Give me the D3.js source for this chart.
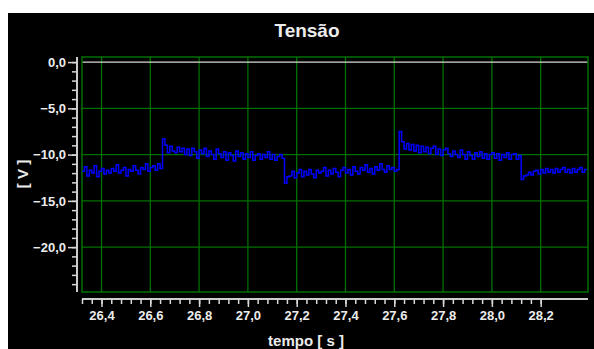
<!DOCTYPE html>
<html>
<head>
<meta charset="utf-8">
<script src="https://cdn.jsdelivr.net/npm/d3@7"></script>
<style>
html, body { margin: 0; padding: 0; background: #fff; }
svg { display: block; }
text { font-family: Arial, "Liberation Sans", sans-serif; }
</style>
</head>
<body>
<svg id="chart" width="594" height="349"></svg>
<script>
var svg = d3.select('#chart')

// sampled signal: first sample time and sample period, in seconds
var sampleStart = 26.32
var sampleStep = 0.01

// tensao [V]
var voltage = [
	// low level
	-11.8, -11.3, -12.3, -11.7, -12.0, -11.2, -12.4, -11.8, -11.5, -12.1,
	-11.7, -12.0, -11.5, -11.8, -11.1, -12.0, -11.7, -11.4, -12.3, -11.6,
	-11.8, -11.2, -11.7, -12.1, -11.4, -11.6, -11.0, -11.8, -11.4, -11.2,
	-11.7, -11.0, -11.5,
	// high level
	-8.3, -9.0, -9.8, -9.1, -9.6, -9.8, -9.2, -9.7, -9.3, -10.0,
	-9.4, -10.1, -9.3, -9.7, -10.4, -9.5, -9.9, -9.3, -10.2, -9.6,
	-10.0, -10.5, -9.4, -9.9, -10.3, -9.7, -10.6, -9.8, -10.1, -10.7,
	-9.6, -10.2, -9.8, -10.5, -9.9, -10.3, -9.7, -10.6, -10.1, -9.9,
	-10.5, -10.0, -10.3, -9.7, -10.5, -10.0, -10.6, -10.2, -10.0, -10.4,
	// low level
	-13.1, -12.4, -12.3, -11.8, -12.5, -12.0, -11.6, -12.4, -11.8, -12.2,
	-11.6, -12.1, -12.5, -11.7, -12.0, -11.8, -11.4, -12.3, -11.7, -12.1,
	-11.5, -11.9, -12.4, -11.7, -11.4, -12.0, -11.6, -12.2, -11.3, -11.8,
	-12.1, -11.4, -11.7, -11.1, -11.9, -11.5, -12.1, -11.3, -11.7, -11.0,
	-11.6, -11.9, -11.2, -11.6, -11.4, -11.8, -11.6,
	// high level
	-7.5, -8.6, -9.4, -8.8, -9.5, -8.9, -9.6, -9.0, -9.8, -9.1,
	-9.7, -9.2, -9.9, -9.3, -9.1, -10.0, -9.4, -10.1, -9.5, -9.3,
	-9.9, -10.2, -9.6, -10.0, -10.3, -9.5, -10.0, -10.5, -9.7, -10.1,
	-10.5, -9.8, -10.2, -9.7, -10.4, -9.9, -10.5, -10.0, -9.8, -10.4,
	-9.9, -10.6, -10.0, -10.3, -9.8, -10.5, -10.0, -9.9, -10.5, -10.1,
	// low level
	-12.7, -12.3, -12.2, -11.9, -12.2, -11.8, -11.7, -12.1, -11.6, -12.0,
	-11.5, -11.9, -11.6, -12.0, -11.5, -11.9, -11.6, -11.4, -11.9, -11.6,
	-12.0, -11.5, -11.9, -11.6, -11.4, -11.9, -11.6, -11.6
]

var xTicks = [26.4, 26.6, 26.8, 27.0, 27.2, 27.4, 27.6, 27.8, 28.0, 28.2]
var yTicks = [0, -5, -10, -15, -20]

var xDomain = [26.32, 28.394]
var yDomain = [-24.85, 0.55]

var plot = {left: 82, right: 588, top: 57, bottom: 292}
var gridColor = '#007000'
var axisColor = '#d8d8d8'
var textColor = '#ececec'

var comma = d3.formatLocale({decimal: ',', thousands: '.', grouping: [3], currency: ['', '']}).format('.1f')

var x = d3.scaleLinear().domain(xDomain).range([plot.left, plot.right])
var y = d3.scaleLinear().domain(yDomain).range([plot.bottom, plot.top])

//Black panel
svg.append('rect')
	.attr('x', 8).attr('y', 13)
	.attr('width', 594 - 8).attr('height', 349 - 13)
	.attr('fill', '#000')

//Grid
svg.append('g').selectAll('line')
	.data(xTicks)
	.enter().append('line')
	.attr('x1', function(d) { return x(d) }).attr('x2', function(d) { return x(d) })
	.attr('y1', plot.top).attr('y2', plot.bottom)
	.attr('stroke', gridColor).attr('stroke-width', 1.3)

svg.append('g').selectAll('line')
	.data(yTicks.filter(function(d) { return d != 0 }))
	.enter().append('line')
	.attr('x1', plot.left).attr('x2', plot.right)
	.attr('y1', function(d) { return y(d) }).attr('y2', function(d) { return y(d) })
	.attr('stroke', gridColor).attr('stroke-width', 1.3)

//Zero line
svg.append('line')
	.attr('x1', plot.left).attr('x2', plot.right)
	.attr('y1', y(0)).attr('y2', y(0))
	.attr('stroke', axisColor).attr('stroke-width', 1.3)

//Frame
svg.append('rect')
	.attr('x', plot.left).attr('y', plot.top)
	.attr('width', plot.right - plot.left).attr('height', plot.bottom - plot.top)
	.attr('fill', 'none').attr('stroke', gridColor).attr('stroke-width', 1.5)

//Signal
var line = d3.line()
	.x(function(d, i) { return x(sampleStart + i * sampleStep) })
	.y(function(d) { return y(d) })
	.curve(d3.curveStepAfter)

svg.append('path')
	.datum(voltage)
	.attr('d', line)
	.attr('fill', 'none')
	.attr('stroke', '#0000ff')
	.attr('stroke-width', 1.5)

//X axis
var xMinor = d3.range(0, 48).map(function(i) { return +(26.32 + i * 0.04).toFixed(2) })

var xAxisG = svg.append('g').attr('transform', 'translate(0,299)')
xAxisG.call(d3.axisBottom(x).tickValues(xMinor).tickSize(5).tickFormat('').tickSizeOuter(0))
xAxisG.append('g').call(d3.axisBottom(x).tickValues(xTicks).tickSize(8).tickFormat(comma).tickSizeOuter(0))
xAxisG.selectAll('.domain').attr('stroke', axisColor).attr('stroke-width', 1.5)
	.attr('d', 'M' + plot.left + ',0H' + plot.right)
xAxisG.selectAll('.tick line').attr('stroke', axisColor).attr('stroke-width', 1.5)
xAxisG.selectAll('text')
	.attr('fill', textColor).attr('font-size', '13px').attr('font-weight', 'bold')
	.attr('y', 12).attr('dy', '.71em')

//Y axis
var yMinor = d3.range(0, 25).map(function(i) { return -i })

var yAxisG = svg.append('g').attr('transform', 'translate(77,0)')
yAxisG.call(d3.axisLeft(y).tickValues(yMinor).tickSize(5).tickFormat('').tickSizeOuter(0))
yAxisG.append('g').call(d3.axisLeft(y).tickValues(yTicks).tickSize(9).tickFormat(comma).tickSizeOuter(0))
yAxisG.selectAll('.domain').attr('stroke', axisColor).attr('stroke-width', 1.5)
	.attr('d', 'M0,' + plot.top + 'V' + plot.bottom)
yAxisG.selectAll('.tick line').attr('stroke', axisColor).attr('stroke-width', 1.5)
yAxisG.selectAll('text')
	.attr('fill', textColor).attr('font-size', '13px').attr('font-weight', 'bold')
	.attr('x', -11)

//Titles
svg.append('text')
	.text('Tensão')
	.attr('x', 307).attr('y', 37)
	.attr('text-anchor', 'middle')
	.attr('font-size', '19px').attr('font-weight', 'bold')
	.attr('fill', textColor)

svg.append('text')
	.text('tempo [ s ]')
	.attr('x', 306).attr('y', 346)
	.attr('text-anchor', 'middle')
	.attr('font-size', '15px').attr('font-weight', 'bold')
	.attr('fill', textColor)

svg.append('text')
	.text('[ V ]')
	.attr('transform', 'translate(28,174) rotate(-90)')
	.attr('text-anchor', 'middle')
	.attr('font-size', '15px').attr('font-weight', 'bold')
	.attr('fill', textColor)
</script>
</body>
</html>
